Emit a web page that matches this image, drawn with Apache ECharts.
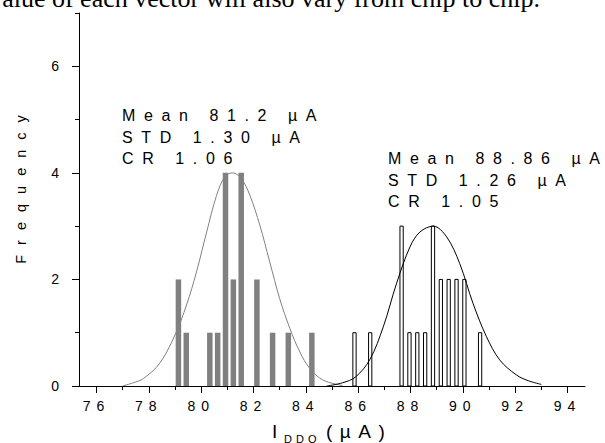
<!DOCTYPE html>
<html>
<head>
<meta charset="utf-8">
<script src="https://cdn.jsdelivr.net/npm/echarts@6/dist/echarts.min.js"></script>
<style>
  html, body { margin: 0; padding: 0; background: #fff; }
  #chart { width: 605px; height: 443px; }
  /* wide letter spacing, one value per text size */
  #chart text[style*="14px"] { letter-spacing: 6px; }
  #chart text[style*="14.5px"] { letter-spacing: 10px; }
  #chart text[style*="16px"] { letter-spacing: 8.6px; }
  #chart text[style*="19px"] { letter-spacing: 7.5px; }
  #chart text[style*="11px"] { letter-spacing: 4px; }
</style>
</head>
<body>
<div id="chart"></div>
<script>
// Histogram of the first group (filled grey bars): bin centre in µA and count
const grayBins   = [79.13, 79.43, 80.33, 80.63, 80.93, 81.23, 81.53, 82.13, 82.73, 83.33, 84.23];
const grayCounts = [2, 1, 1, 1, 4, 2, 4, 2, 1, 1, 1];

// Histogram of the second group (open bars)
const openBins   = [85.86, 86.46, 87.66, 87.96, 88.26, 88.56, 88.86, 89.16, 89.46, 89.76, 90.06, 90.66];
const openCounts = [1, 1, 3, 1, 1, 1, 3, 2, 2, 2, 2, 1];

// Fitted normal curves, sampled points
const grayFitX = [77.0, 77.4, 77.79, 78.42, 79.0, 79.44, 79.82, 80.21, 80.59, 80.91, 81.2, 81.54, 81.86, 82.24, 82.62, 83.0, 83.39, 83.77, 84.15, 84.66, 85.4];
const grayFitY = [0.0, 0.06, 0.14, 0.43, 0.96, 1.52, 2.14, 2.89, 3.58, 3.93, 4.0, 3.89, 3.58, 3.02, 2.33, 1.64, 1.08, 0.64, 0.33, 0.11, 0.01];
const blackFitX = [84.8, 85.4, 85.9, 86.45, 86.96, 87.47, 87.98, 88.36, 88.87, 89.38, 89.88, 90.39, 90.9, 91.41, 92.04, 92.5, 93.0];
const blackFitY = [0.0, 0.06, 0.17, 0.5, 1.11, 1.93, 2.61, 2.89, 3.0, 2.8, 2.3, 1.55, 0.93, 0.49, 0.21, 0.1, 0.03];

// Axis ticks
const xMajorTicks = [76, 78, 80, 82, 84, 86, 88, 90, 92, 94];
const xMinorTicks = [77, 79, 81, 83, 85, 87, 89, 91, 93];
const yMajorTicks = [0, 2, 4, 6];
const yMinorTicks = [1, 3, 5, 7];

// Summary statistics of each group
const leftStats  = ['Mean 81.2 µA', 'STD 1.30 µA', 'CR 1.06'];
const rightStats = ['Mean 88.86 µA', 'STD 1.26 µA', 'CR 1.05'];

const headText = 'value of each vector will also vary from chip to chip.';

const X_MIN = 75.33, X_MAX = 94.67, Y_MIN = 0, Y_MAX = 7;
const FONT = '"Liberation Sans", Arial, sans-serif';

const chart = echarts.init(document.getElementById('chart'), null, { renderer: 'svg' });

function barRenderer(widthUnits, style) {
  return function (params, api) {
    const x = api.value(0);
    const h = api.value(1);
    const base = api.coord([x, 0]);
    const top = api.coord([x, h]);
    const w = api.size([widthUnits, 0])[0];
    return {
      type: 'rect',
      shape: { x: base[0] - w / 2, y: top[1], width: w, height: base[1] - top[1] },
      style: style
    };
  };
}

const pairs = (xs, ys) => xs.map((x, i) => [x, ys[i]]);

const commonAxis = {
  splitLine: { show: false }
};

chart.setOption({
  animation: false,
  backgroundColor: '#fff',
  grid: { left: 79, right: 20, top: 13, bottom: 57, containLabel: false, outerBoundsMode: 'none' },
  xAxis: [
    Object.assign({}, commonAxis, {
      type: 'value', min: X_MIN, max: X_MAX, position: 'bottom',
      axisLine: { show: true, onZero: false, lineStyle: { color: '#000', width: 1 } },
      axisTick: { show: true, customValues: xMajorTicks, length: 7, lineStyle: { color: '#000', width: 1 } },
      axisLabel: { show: true, customValues: xMajorTicks, margin: 13, color: '#000', fontSize: 14, fontFamily: FONT },
      name: '{i|I}{s|DDQ}{u|(µA)}',
      nameLocation: 'middle',
      nameGap: 33,
      nameTextStyle: {
        color: '#000',
        rich: {
          i: { fontSize: 19, fontFamily: FONT, color: '#000', lineHeight: 22, width: 12, align: 'left', verticalAlign: 'middle' },
          s: { fontSize: 11, fontFamily: FONT, color: '#000', lineHeight: 11, width: 42, align: 'left', padding: [16, 0, 0, 0], verticalAlign: 'middle' },
          u: { fontSize: 19, fontFamily: FONT, color: '#000', lineHeight: 22, width: 66, align: 'left', verticalAlign: 'middle' }
        }
      }
    }),
    Object.assign({}, commonAxis, {
      type: 'value', min: X_MIN, max: X_MAX, position: 'bottom',
      axisLine: { show: false, onZero: false },
      axisTick: { show: true, customValues: xMinorTicks, length: 4, lineStyle: { color: '#000', width: 1 } },
      axisLabel: { show: false }
    })
  ],
  yAxis: [
    Object.assign({}, commonAxis, {
      type: 'value', min: Y_MIN, max: Y_MAX, position: 'left',
      axisLine: { show: true, onZero: false, lineStyle: { color: '#000', width: 1 } },
      axisTick: { show: true, customValues: yMajorTicks, length: 7, lineStyle: { color: '#000', width: 1 } },
      axisLabel: { show: true, customValues: yMajorTicks, margin: 14, color: '#000', fontSize: 14, fontFamily: FONT },
      name: 'Frequency',
      nameLocation: 'middle',
      nameRotate: 90,
      nameGap: 51,
      nameTextStyle: { color: '#000', fontSize: 14.5, fontFamily: FONT, padding: [0, 0, 0, 30] }
    }),
    Object.assign({}, commonAxis, {
      type: 'value', min: Y_MIN, max: Y_MAX, position: 'left',
      axisLine: { show: false, onZero: false },
      axisTick: { show: true, customValues: yMinorTicks, length: 4, lineStyle: { color: '#000', width: 1 } },
      axisLabel: { show: false }
    })
  ],
  graphic: [
    {
      type: 'text', x: 540, y: -2, silent: true,
      style: { text: headText, fill: '#000', font: '26px "Liberation Serif", "Times New Roman", serif',
               align: 'right', verticalAlign: 'middle', textAlign: 'right', textVerticalAlign: 'middle' }
    },
    {
      type: 'text', x: 122, y: 105, silent: true,
      style: { text: leftStats.join('\n'), fill: '#000', font: '16px ' + FONT, lineHeight: 21.5,
               align: 'left', verticalAlign: 'top', textAlign: 'left', textVerticalAlign: 'top' }
    },
    {
      type: 'text', x: 388, y: 148, silent: true,
      style: { text: rightStats.join('\n'), fill: '#000', font: '16px ' + FONT, lineHeight: 21.5,
               align: 'left', verticalAlign: 'top', textAlign: 'left', textVerticalAlign: 'top' }
    }
  ],
  series: [
    {
      name: 'group 1',
      type: 'custom',
      xAxisIndex: 0, yAxisIndex: 0,
      renderItem: barRenderer(0.21, { fill: '#808080', stroke: null }),
      encode: { x: 0, y: 1 },
      data: pairs(grayBins, grayCounts),
      z: 2
    },
    {
      name: 'group 2',
      type: 'custom',
      xAxisIndex: 0, yAxisIndex: 0,
      renderItem: barRenderer(0.125, { fill: '#fff', stroke: '#000', lineWidth: 1 }),
      encode: { x: 0, y: 1 },
      data: pairs(openBins, openCounts),
      z: 2
    },
    {
      name: 'fit 1',
      type: 'line',
      xAxisIndex: 0, yAxisIndex: 0,
      data: pairs(grayFitX, grayFitY),
      smooth: 0.35,
      symbol: 'none',
      lineStyle: { color: '#808080', width: 1 },
      z: 3
    },
    {
      name: 'fit 2',
      type: 'line',
      xAxisIndex: 0, yAxisIndex: 0,
      data: pairs(blackFitX, blackFitY),
      smooth: 0.35,
      symbol: 'none',
      lineStyle: { color: '#000', width: 1 },
      z: 3
    }
  ]
});
</script>
</body>
</html>
